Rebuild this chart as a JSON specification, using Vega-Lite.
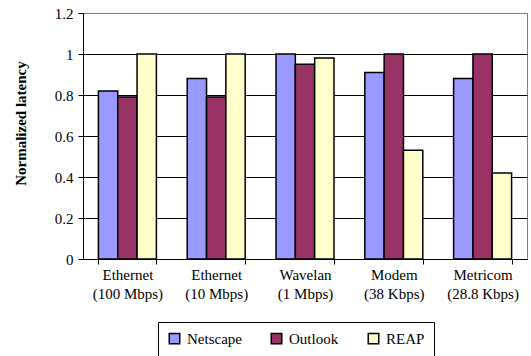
{
  "$schema": "https://vega.github.io/schema/vega-lite/v6.json",
  "width": 444,
  "height": 246,
  "autosize": {"type": "none"},
  "padding": {"left": 83, "top": 13, "right": 4, "bottom": 97},
  "background": "white",
  "config": {
    "font": "Liberation Serif",
    "view": {"stroke": "#808080", "strokeWidth": 1}
  },
  "data": {
    "values": [
      {"network": "Ethernet (100 Mbps)", "client": "Netscape", "latency": 0.82},
      {"network": "Ethernet (100 Mbps)", "client": "Outlook", "latency": 0.79},
      {"network": "Ethernet (100 Mbps)", "client": "REAP", "latency": 1.0},
      {"network": "Ethernet (10 Mbps)", "client": "Netscape", "latency": 0.88},
      {"network": "Ethernet (10 Mbps)", "client": "Outlook", "latency": 0.79},
      {"network": "Ethernet (10 Mbps)", "client": "REAP", "latency": 1.0},
      {"network": "Wavelan (1 Mbps)", "client": "Netscape", "latency": 1.0},
      {"network": "Wavelan (1 Mbps)", "client": "Outlook", "latency": 0.95},
      {"network": "Wavelan (1 Mbps)", "client": "REAP", "latency": 0.98},
      {"network": "Modem (38 Kbps)", "client": "Netscape", "latency": 0.91},
      {"network": "Modem (38 Kbps)", "client": "Outlook", "latency": 1.0},
      {"network": "Modem (38 Kbps)", "client": "REAP", "latency": 0.53},
      {"network": "Metricom (28.8 Kbps)", "client": "Netscape", "latency": 0.88},
      {"network": "Metricom (28.8 Kbps)", "client": "Outlook", "latency": 1.0},
      {"network": "Metricom (28.8 Kbps)", "client": "REAP", "latency": 0.42}
    ]
  },
  "mark": {"type": "bar", "stroke": "black", "strokeWidth": 1.5},
  "encoding": {
    "x": {
      "field": "network",
      "type": "nominal",
      "sort": null,
      "scale": {"paddingInner": 0.347, "paddingOuter": 0.1735},
      "axis": {
        "title": null,
        "labelAngle": 0,
        "labelFont": "Liberation Serif",
        "labelFontSize": 15,
        "labelColor": "black",
        "labelPadding": 3,
        "labelLineHeight": 19,
        "labelBaseline": "top",
        "labelExpr": "split(replace(datum.label, ' (', '\\n('), '\\n')",
        "tickBand": "extent",
        "tickSize": 5,
        "tickColor": "black",
        "domainColor": "black",
        "labelLimit": 200
      }
    },
    "xOffset": {"field": "client", "type": "nominal", "scale": {"paddingInner": 0, "paddingOuter": 0}},
    "y": {
      "field": "latency",
      "type": "quantitative",
      "scale": {"domain": [0, 1.2], "nice": false},
      "axis": {
        "title": "Normalized latency",
        "titleFont": "Liberation Serif",
        "titleFontSize": 15,
        "titleFontWeight": "bold",
        "titleColor": "black",
        "titleX": -58,
        "titleY": 110,
        "titleBaseline": "alphabetic",
        "values": [0, 0.2, 0.4, 0.6, 0.8, 1, 1.2],
        "format": "~g",
        "labelFont": "Liberation Serif",
        "labelFontSize": 15,
        "labelColor": "black",
        "labelPadding": 5,
        "tickSize": 5,
        "tickColor": "black",
        "domainColor": "black",
        "grid": true,
        "gridColor": {"condition": {"test": "datum.value >= 1.19", "value": "#808080"}, "value": "black"},
        "gridOpacity": 1
      }
    },
    "fill": {
      "field": "client",
      "type": "nominal",
      "scale": {"domain": ["Netscape", "Outlook", "REAP"], "range": ["#9999FF", "#993366", "#FFFFCC"]},
      "legend": {
        "title": null,
        "orient": "none",
        "legendX": 75,
        "legendY": 309,
        "direction": "horizontal",
        "strokeColor": "black",
        "padding": 9,
        "symbolType": "square",
        "symbolSize": 110,
        "symbolStrokeColor": "black",
        "symbolStrokeWidth": 1.5,
        "symbolOpacity": 1,
        "labelFont": "Liberation Serif",
        "labelFontSize": 15,
        "labelColor": "black",
        "labelOffset": 5,
        "columnPadding": 26
      }
    }
  }
}
